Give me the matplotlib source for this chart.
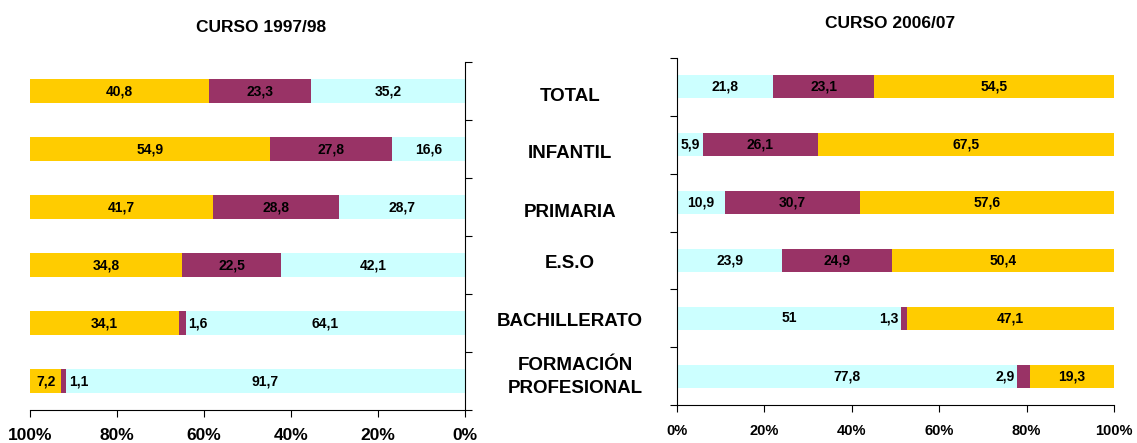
import numpy as np
import matplotlib
matplotlib.use('Agg')
import matplotlib.pyplot as plt
import matplotlib.transforms as mtransforms

plt.rcParams['font.family'] = ['Liberation Sans', 'DejaVu Sans']
plt.rcParams['font.weight'] = 'bold'

categories = ['TOTAL', 'INFANTIL', 'PRIMARIA', 'E.S.O', 'BACHILLERATO', 'FORMACIÓN\nPROFESIONAL']

# curso 1997/98  (cyan, purple, yellow)
c97 = [35.2, 16.6, 28.7, 42.1, 64.1, 91.7]
p97 = [23.3, 27.8, 28.8, 22.5, 1.6, 1.1]
y97 = [40.8, 54.9, 41.7, 34.8, 34.1, 7.2]

# curso 2006/07
c06 = [21.8, 5.9, 10.9, 23.9, 51, 77.8]
p06 = [23.1, 26.1, 30.7, 24.9, 1.3, 2.9]
y06 = [54.5, 67.5, 57.6, 50.4, 47.1, 19.3]

left_ticks = ['100%', '80%', '60%', '40%', '20%', '0%']
right_ticks = ['0%', '20%', '40%', '60%', '80%', '100%']

colors = ['#CCFFFF', '#993366', '#FFCC00']

fig = plt.figure(figsize=(11.37, 4.43), dpi=100)
axL = fig.add_axes([30/1137, 1-410/443, 435/1137, 348/443])
axR = fig.add_axes([677/1137, 1-405/443, 437/1137, 347/443])


def fmt(v):
    return ('%g' % v).replace('.', ',')


def draw(ax, c, p, y):
    c, p, y = np.array(c), np.array(p), np.array(y)
    tot = c + p + y
    segs = [c / tot * 100, p / tot * 100, y / tot * 100]
    raw = [c, p, y]
    pos = np.arange(len(c))
    start = np.zeros(len(c))
    for k in range(3):
        ax.barh(pos, segs[k], left=start, height=0.40, color=colors[k], edgecolor='none')
        for i in pos:
            w = segs[k][i]
            mid = start[i] + w / 2
            ha = 'center'
            if w < 4:
                # tiny segment: label sits beside it, on the cyan side
                mid = start[i] - 0.6
                ha = 'left' if ax.xaxis_inverted() else 'right'
            ax.text(mid, i, fmt(raw[k][i]), ha=ha, va='center', fontsize=10,
                    fontweight='bold')
        start = start + segs[k]
    ax.set_ylim(len(c) - 0.5, -0.5)
    ax.set_yticks(np.arange(-0.5, len(c) + 0.5, 1))
    ax.set_yticklabels([])
    ax.spines['top'].set_visible(False)
    ax.tick_params(axis='both', direction='out', length=5)


axL.set_xlim(100, 0)
draw(axL, c97, p97, y97)
axL.spines['left'].set_visible(False)
axL.yaxis.tick_right()
axL.set_xticks([100, 80, 60, 40, 20, 0])
axL.set_xticklabels(left_ticks, fontsize=12.5, fontweight='bold')
axL.tick_params(axis='x', pad=8)

axR.set_xlim(0, 100)
draw(axR, c06, p06, y06)
axR.spines['right'].set_visible(False)
axR.set_xticks([0, 20, 40, 60, 80, 100])
axR.set_xticklabels(right_ticks, fontsize=10.5, fontweight='bold')
axR.tick_params(axis='x', pad=9)

fig.text(261/1137, 1-28/443, 'CURSO 1997/98', ha='center', va='center',
         fontsize=12.5, fontweight='bold')
fig.text(890/1137, 1-23/443, 'CURSO 2006/07', ha='center', va='center',
         fontsize=12.5, fontweight='bold')

trans = mtransforms.blended_transform_factory(fig.transFigure, axL.transData)
offs = [0.1, 0.07, 0.1, -0.03, -0.03, -0.07]
for i, name in enumerate(categories):
    fig.text(575/1137 if '\n' in name else 570/1137, i + offs[i], name,
             transform=trans, ha='center', va='center', fontsize=13.5,
             fontweight='bold', linespacing=1.45)

fig.savefig('out.png', dpi=100)
